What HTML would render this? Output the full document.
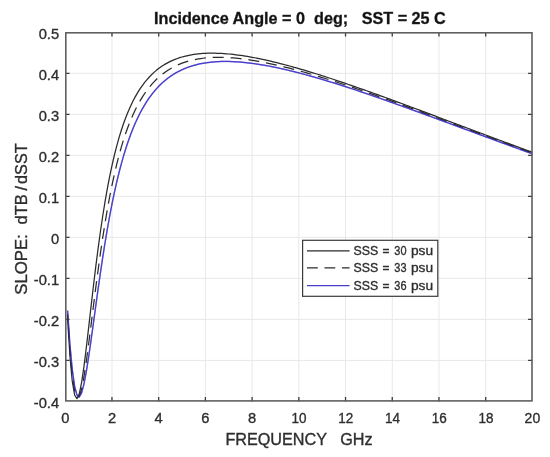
<!DOCTYPE html>
<html><head><meta charset="utf-8"><title>plot</title>
<style>html,body{margin:0;padding:0;background:#fff}svg{display:block;filter:blur(0.45px)}text{font-family:"Liberation Sans",Arial,sans-serif;white-space:pre;stroke:#2e2e2e;stroke-width:0.35px}</style></head>
<body>
<svg width="550" height="457" viewBox="0 0 550 457">
<rect width="550" height="457" fill="#fff"/>
<path d="M111.97 32.30 V401.40 M158.68 32.30 V401.40 M205.39 32.30 V401.40 M252.11 32.30 V401.40 M298.82 32.30 V401.40 M345.54 32.30 V401.40 M392.25 32.30 V401.40 M438.97 32.30 V401.40 M485.69 32.30 V401.40 M65.25 73.31 H532.40 M65.25 114.32 H532.40 M65.25 155.33 H532.40 M65.25 196.34 H532.40 M65.25 237.36 H532.40 M65.25 278.37 H532.40 M65.25 319.38 H532.40 M65.25 360.39 H532.40" stroke="#e8e8e8" stroke-width="1" fill="none"/>
<g fill="none" stroke-width="1.25" stroke-linejoin="round">
<path d="M67.59 318.41 L69.92 356.02 L72.26 381.16 L74.59 395.02 L76.93 398.69 L79.26 393.86 L81.60 382.53 L83.94 366.67 L86.27 348.01 L88.61 327.92 L90.94 307.44 L93.28 287.28 L95.61 267.91 L97.95 249.61 L100.29 232.54 L102.62 216.73 L104.96 202.20 L107.29 188.88 L109.63 176.71 L111.97 165.62 L114.30 155.51 L116.64 146.30 L118.97 137.92 L121.31 130.28 L123.64 123.32 L125.98 116.98 L128.32 111.19 L130.65 105.90 L132.99 101.07 L135.32 96.65 L137.66 92.61 L139.99 88.91 L142.33 85.52 L144.67 82.42 L147.00 79.57 L149.34 76.96 L151.67 74.57 L154.01 72.37 L156.34 70.36 L158.68 68.52 L161.02 66.83 L163.35 65.28 L165.69 63.87 L168.02 62.58 L170.36 61.41 L172.69 60.34 L175.03 59.37 L177.37 58.49 L179.70 57.70 L182.04 56.98 L184.37 56.35 L186.71 55.78 L189.04 55.28 L191.38 54.84 L193.72 54.46 L196.05 54.14 L198.39 53.87 L200.72 53.64 L203.06 53.47 L205.39 53.33 L207.73 53.24 L210.07 53.19 L212.40 53.18 L214.74 53.20 L217.07 53.26 L219.41 53.35 L221.75 53.47 L224.08 53.62 L226.42 53.80 L228.75 54.00 L231.09 54.23 L233.42 54.49 L235.76 54.77 L238.10 55.07 L240.43 55.39 L242.77 55.74 L245.10 56.10 L247.44 56.48 L249.77 56.89 L252.11 57.31 L254.45 57.74 L256.78 58.20 L259.12 58.67 L261.45 59.15 L263.79 59.65 L266.12 60.16 L268.46 60.69 L270.80 61.23 L273.13 61.79 L275.47 62.35 L277.80 62.93 L280.14 63.52 L282.47 64.12 L284.81 64.73 L287.15 65.35 L289.48 65.98 L291.82 66.62 L294.15 67.28 L296.49 67.94 L298.82 68.60 L301.16 69.28 L303.50 69.97 L305.83 70.66 L308.17 71.36 L310.50 72.07 L312.84 72.79 L315.18 73.51 L317.51 74.24 L319.85 74.97 L322.18 75.72 L324.52 76.46 L326.85 77.22 L329.19 77.98 L331.53 78.74 L333.86 79.52 L336.20 80.29 L338.53 81.07 L340.87 81.86 L343.20 82.65 L345.54 83.44 L347.88 84.24 L350.21 85.05 L352.55 85.85 L354.88 86.67 L357.22 87.48 L359.55 88.30 L361.89 89.12 L364.23 89.95 L366.56 90.78 L368.90 91.61 L371.23 92.44 L373.57 93.28 L375.90 94.12 L378.24 94.96 L380.58 95.81 L382.91 96.66 L385.25 97.51 L387.58 98.36 L389.92 99.21 L392.25 100.07 L394.59 100.93 L396.93 101.79 L399.26 102.65 L401.60 103.51 L403.93 104.37 L406.27 105.24 L408.61 106.11 L410.94 106.98 L413.28 107.85 L415.61 108.72 L417.95 109.59 L420.28 110.46 L422.62 111.34 L424.96 112.21 L427.29 113.09 L429.63 113.96 L431.96 114.84 L434.30 115.71 L436.63 116.59 L438.97 117.47 L441.31 118.35 L443.64 119.23 L445.98 120.10 L448.31 120.98 L450.65 121.86 L452.98 122.74 L455.32 123.62 L457.66 124.50 L459.99 125.38 L462.33 126.25 L464.66 127.13 L467.00 128.01 L469.33 128.89 L471.67 129.76 L474.01 130.64 L476.34 131.52 L478.68 132.39 L481.01 133.27 L483.35 134.14 L485.69 135.02 L488.02 135.89 L490.36 136.76 L492.69 137.63 L495.03 138.50 L497.36 139.37 L499.70 140.24 L502.04 141.11 L504.37 141.98 L506.71 142.85 L509.04 143.71 L511.38 144.58 L513.71 145.44 L516.05 146.30 L518.39 147.16 L520.72 148.02 L523.06 148.88 L525.39 149.74 L527.73 150.59 L530.06 151.45 L532.40 152.30" stroke="#2b2b2b"/>
<path d="M67.59 314.24 L69.92 350.11 L72.26 375.24 L74.59 390.77 L76.93 397.43 L79.26 396.37 L81.60 389.03 L83.94 376.97 L86.27 361.63 L88.61 344.27 L90.94 325.88 L93.28 307.22 L95.61 288.83 L97.95 271.08 L100.29 254.19 L102.62 238.30 L104.96 223.47 L107.29 209.71 L109.63 196.99 L111.97 185.26 L114.30 174.48 L116.64 164.58 L118.97 155.49 L121.31 147.16 L123.64 139.51 L125.98 132.50 L128.32 126.06 L130.65 120.15 L132.99 114.73 L135.32 109.74 L137.66 105.16 L139.99 100.94 L142.33 97.07 L144.67 93.50 L147.00 90.21 L149.34 87.18 L151.67 84.40 L154.01 81.83 L156.34 79.46 L158.68 77.28 L161.02 75.28 L163.35 73.43 L165.69 71.73 L168.02 70.17 L170.36 68.74 L172.69 67.42 L175.03 66.22 L177.37 65.12 L179.70 64.12 L182.04 63.20 L184.37 62.38 L186.71 61.63 L189.04 60.95 L191.38 60.35 L193.72 59.81 L196.05 59.34 L198.39 58.92 L200.72 58.56 L203.06 58.25 L205.39 57.99 L207.73 57.78 L210.07 57.62 L212.40 57.49 L214.74 57.41 L217.07 57.36 L219.41 57.35 L221.75 57.38 L224.08 57.44 L226.42 57.53 L228.75 57.65 L231.09 57.80 L233.42 57.98 L235.76 58.18 L238.10 58.41 L240.43 58.66 L242.77 58.94 L245.10 59.24 L247.44 59.56 L249.77 59.90 L252.11 60.26 L254.45 60.64 L256.78 61.04 L259.12 61.46 L261.45 61.89 L263.79 62.34 L266.12 62.80 L268.46 63.28 L270.80 63.78 L273.13 64.29 L275.47 64.81 L277.80 65.35 L280.14 65.90 L282.47 66.46 L284.81 67.03 L287.15 67.62 L289.48 68.21 L291.82 68.82 L294.15 69.43 L296.49 70.06 L298.82 70.70 L301.16 71.34 L303.50 72.00 L305.83 72.66 L308.17 73.33 L310.50 74.01 L312.84 74.70 L315.18 75.40 L317.51 76.10 L319.85 76.81 L322.18 77.53 L324.52 78.25 L326.85 78.98 L329.19 79.72 L331.53 80.46 L333.86 81.21 L336.20 81.96 L338.53 82.72 L340.87 83.49 L343.20 84.26 L345.54 85.03 L347.88 85.81 L350.21 86.60 L352.55 87.39 L354.88 88.18 L357.22 88.98 L359.55 89.78 L361.89 90.58 L364.23 91.39 L366.56 92.20 L368.90 93.02 L371.23 93.84 L373.57 94.66 L375.90 95.49 L378.24 96.31 L380.58 97.14 L382.91 97.98 L385.25 98.81 L387.58 99.65 L389.92 100.49 L392.25 101.33 L394.59 102.18 L396.93 103.03 L399.26 103.88 L401.60 104.73 L403.93 105.58 L406.27 106.43 L408.61 107.29 L410.94 108.15 L413.28 109.00 L415.61 109.86 L417.95 110.72 L420.28 111.59 L422.62 112.45 L424.96 113.31 L427.29 114.18 L429.63 115.04 L431.96 115.91 L434.30 116.78 L436.63 117.64 L438.97 118.51 L441.31 119.38 L443.64 120.25 L445.98 121.12 L448.31 121.99 L450.65 122.86 L452.98 123.73 L455.32 124.60 L457.66 125.47 L459.99 126.34 L462.33 127.21 L464.66 128.08 L467.00 128.95 L469.33 129.82 L471.67 130.69 L474.01 131.56 L476.34 132.43 L478.68 133.30 L481.01 134.16 L483.35 135.03 L485.69 135.90 L488.02 136.76 L490.36 137.63 L492.69 138.49 L495.03 139.36 L497.36 140.22 L499.70 141.08 L502.04 141.95 L504.37 142.81 L506.71 143.67 L509.04 144.53 L511.38 145.39 L513.71 146.24 L516.05 147.10 L518.39 147.95 L520.72 148.81 L523.06 149.66 L525.39 150.51 L527.73 151.36 L530.06 152.21 L532.40 153.06" stroke="#2b2b2b" stroke-dasharray="11 6.9" stroke-dashoffset="4.8"/>
<path d="M67.59 310.61 L69.92 344.84 L72.26 369.64 L74.59 386.20 L76.93 395.02 L79.26 396.89 L81.60 392.85 L83.94 384.12 L86.27 371.87 L88.61 357.20 L90.94 341.03 L93.28 324.10 L95.61 306.98 L97.95 290.09 L100.29 273.72 L102.62 258.07 L104.96 243.24 L107.29 229.30 L109.63 216.26 L111.97 204.12 L114.30 192.85 L116.64 182.41 L118.97 172.76 L121.31 163.84 L123.64 155.61 L125.98 148.01 L128.32 140.99 L130.65 134.52 L132.99 128.55 L135.32 123.03 L137.66 117.94 L139.99 113.24 L142.33 108.89 L144.67 104.87 L147.00 101.16 L149.34 97.72 L151.67 94.55 L154.01 91.61 L156.34 88.89 L158.68 86.38 L161.02 84.05 L163.35 81.90 L165.69 79.92 L168.02 78.08 L170.36 76.39 L172.69 74.82 L175.03 73.38 L177.37 72.06 L179.70 70.84 L182.04 69.72 L184.37 68.69 L186.71 67.76 L189.04 66.91 L191.38 66.13 L193.72 65.43 L196.05 64.80 L198.39 64.23 L200.72 63.73 L203.06 63.28 L205.39 62.89 L207.73 62.55 L210.07 62.27 L212.40 62.03 L214.74 61.83 L217.07 61.68 L219.41 61.56 L221.75 61.49 L224.08 61.45 L226.42 61.45 L228.75 61.48 L231.09 61.55 L233.42 61.64 L235.76 61.77 L238.10 61.92 L240.43 62.10 L242.77 62.31 L245.10 62.54 L247.44 62.79 L249.77 63.07 L252.11 63.37 L254.45 63.69 L256.78 64.03 L259.12 64.39 L261.45 64.76 L263.79 65.16 L266.12 65.57 L268.46 66.00 L270.80 66.45 L273.13 66.91 L275.47 67.39 L277.80 67.88 L280.14 68.39 L282.47 68.91 L284.81 69.44 L287.15 69.99 L289.48 70.54 L291.82 71.11 L294.15 71.69 L296.49 72.28 L298.82 72.88 L301.16 73.50 L303.50 74.12 L305.83 74.75 L308.17 75.39 L310.50 76.04 L312.84 76.70 L315.18 77.37 L317.51 78.04 L319.85 78.73 L322.18 79.42 L324.52 80.11 L326.85 80.82 L329.19 81.53 L331.53 82.25 L333.86 82.97 L336.20 83.70 L338.53 84.44 L340.87 85.18 L343.20 85.93 L345.54 86.69 L347.88 87.45 L350.21 88.21 L352.55 88.98 L354.88 89.75 L357.22 90.53 L359.55 91.31 L361.89 92.10 L364.23 92.89 L366.56 93.68 L368.90 94.48 L371.23 95.28 L373.57 96.09 L375.90 96.90 L378.24 97.71 L380.58 98.52 L382.91 99.34 L385.25 100.16 L387.58 100.99 L389.92 101.81 L392.25 102.64 L394.59 103.47 L396.93 104.31 L399.26 105.14 L401.60 105.98 L403.93 106.82 L406.27 107.66 L408.61 108.50 L410.94 109.35 L413.28 110.19 L415.61 111.04 L417.95 111.89 L420.28 112.74 L422.62 113.59 L424.96 114.45 L427.29 115.30 L429.63 116.15 L431.96 117.01 L434.30 117.87 L436.63 118.72 L438.97 119.58 L441.31 120.44 L443.64 121.30 L445.98 122.16 L448.31 123.02 L450.65 123.88 L452.98 124.74 L455.32 125.60 L457.66 126.46 L459.99 127.33 L462.33 128.19 L464.66 129.05 L467.00 129.91 L469.33 130.77 L471.67 131.63 L474.01 132.49 L476.34 133.35 L478.68 134.21 L481.01 135.07 L483.35 135.93 L485.69 136.79 L488.02 137.65 L490.36 138.51 L492.69 139.37 L495.03 140.23 L497.36 141.08 L499.70 141.94 L502.04 142.79 L504.37 143.65 L506.71 144.50 L509.04 145.35 L511.38 146.21 L513.71 147.06 L516.05 147.91 L518.39 148.76 L520.72 149.60 L523.06 150.45 L525.39 151.30 L527.73 152.14 L530.06 152.99 L532.40 153.83" stroke="#4a3fcc" style="mix-blend-mode:multiply"/>
<path d="M67.59 310.61 L69.92 344.84 L72.26 369.64 L74.59 386.20 L76.93 395.02 L79.26 396.89 L81.60 392.85 L83.94 384.12 L86.27 371.87 L88.61 357.20 L90.94 341.03 L93.28 324.10 L95.61 306.98 L97.95 290.09 L100.29 273.72 L102.62 258.07 L104.96 243.24 L107.29 229.30 L109.63 216.26 L111.97 204.12 L114.30 192.85 L116.64 182.41 L118.97 172.76 L121.31 163.84 L123.64 155.61 L125.98 148.01 L128.32 140.99 L130.65 134.52 L132.99 128.55 L135.32 123.03 L137.66 117.94 L139.99 113.24 L142.33 108.89 L144.67 104.87 L147.00 101.16 L149.34 97.72 L151.67 94.55 L154.01 91.61 L156.34 88.89 L158.68 86.38 L161.02 84.05 L163.35 81.90 L165.69 79.92 L168.02 78.08 L170.36 76.39 L172.69 74.82 L175.03 73.38 L177.37 72.06 L179.70 70.84 L182.04 69.72 L184.37 68.69 L186.71 67.76 L189.04 66.91 L191.38 66.13 L193.72 65.43 L196.05 64.80 L198.39 64.23 L200.72 63.73 L203.06 63.28 L205.39 62.89 L207.73 62.55 L210.07 62.27 L212.40 62.03 L214.74 61.83 L217.07 61.68 L219.41 61.56 L221.75 61.49 L224.08 61.45 L226.42 61.45 L228.75 61.48 L231.09 61.55 L233.42 61.64 L235.76 61.77 L238.10 61.92 L240.43 62.10 L242.77 62.31 L245.10 62.54 L247.44 62.79 L249.77 63.07 L252.11 63.37 L254.45 63.69 L256.78 64.03 L259.12 64.39 L261.45 64.76 L263.79 65.16 L266.12 65.57 L268.46 66.00 L270.80 66.45 L273.13 66.91 L275.47 67.39 L277.80 67.88 L280.14 68.39 L282.47 68.91 L284.81 69.44 L287.15 69.99 L289.48 70.54 L291.82 71.11 L294.15 71.69 L296.49 72.28 L298.82 72.88 L301.16 73.50 L303.50 74.12 L305.83 74.75 L308.17 75.39 L310.50 76.04 L312.84 76.70 L315.18 77.37 L317.51 78.04 L319.85 78.73 L322.18 79.42 L324.52 80.11 L326.85 80.82 L329.19 81.53 L331.53 82.25 L333.86 82.97 L336.20 83.70 L338.53 84.44 L340.87 85.18 L343.20 85.93 L345.54 86.69 L347.88 87.45 L350.21 88.21 L352.55 88.98 L354.88 89.75 L357.22 90.53 L359.55 91.31 L361.89 92.10 L364.23 92.89 L366.56 93.68 L368.90 94.48 L371.23 95.28 L373.57 96.09 L375.90 96.90 L378.24 97.71 L380.58 98.52 L382.91 99.34 L385.25 100.16 L387.58 100.99 L389.92 101.81 L392.25 102.64 L394.59 103.47 L396.93 104.31 L399.26 105.14 L401.60 105.98 L403.93 106.82 L406.27 107.66 L408.61 108.50 L410.94 109.35 L413.28 110.19 L415.61 111.04 L417.95 111.89 L420.28 112.74 L422.62 113.59 L424.96 114.45 L427.29 115.30 L429.63 116.15 L431.96 117.01 L434.30 117.87 L436.63 118.72 L438.97 119.58 L441.31 120.44 L443.64 121.30 L445.98 122.16 L448.31 123.02 L450.65 123.88 L452.98 124.74 L455.32 125.60 L457.66 126.46 L459.99 127.33 L462.33 128.19 L464.66 129.05 L467.00 129.91 L469.33 130.77 L471.67 131.63 L474.01 132.49 L476.34 133.35 L478.68 134.21 L481.01 135.07 L483.35 135.93 L485.69 136.79 L488.02 137.65 L490.36 138.51 L492.69 139.37 L495.03 140.23 L497.36 141.08 L499.70 141.94 L502.04 142.79 L504.37 143.65 L506.71 144.50 L509.04 145.35 L511.38 146.21 L513.71 147.06 L516.05 147.91 L518.39 148.76 L520.72 149.60 L523.06 150.45 L525.39 151.30 L527.73 152.14 L530.06 152.99 L532.40 153.83" stroke="#4a3fcc" stroke-opacity="0.5" stroke-width="1.5"/>
</g>
<path d="M111.97 401.40 v-4.30 M111.97 32.30 v4.30 M158.68 401.40 v-4.30 M158.68 32.30 v4.30 M205.39 401.40 v-4.30 M205.39 32.30 v4.30 M252.11 401.40 v-4.30 M252.11 32.30 v4.30 M298.82 401.40 v-4.30 M298.82 32.30 v4.30 M345.54 401.40 v-4.30 M345.54 32.30 v4.30 M392.25 401.40 v-4.30 M392.25 32.30 v4.30 M438.97 401.40 v-4.30 M438.97 32.30 v4.30 M485.69 401.40 v-4.30 M485.69 32.30 v4.30 M65.25 73.31 h4.30 M532.40 73.31 h-4.30 M65.25 114.32 h4.30 M532.40 114.32 h-4.30 M65.25 155.33 h4.30 M532.40 155.33 h-4.30 M65.25 196.34 h4.30 M532.40 196.34 h-4.30 M65.25 237.36 h4.30 M532.40 237.36 h-4.30 M65.25 278.37 h4.30 M532.40 278.37 h-4.30 M65.25 319.38 h4.30 M532.40 319.38 h-4.30 M65.25 360.39 h4.30 M532.40 360.39 h-4.30" stroke="#3a3a3a" stroke-width="1.3" fill="none"/>
<rect x="65.80" y="32.80" width="466.20" height="368.10" fill="none" stroke="#606060" stroke-width="1.60"/>
<g font-size="14.70" fill="#2e2e2e">
<text x="65.25" y="422.70" text-anchor="middle">0</text>
<text x="111.97" y="422.70" text-anchor="middle">2</text>
<text x="158.68" y="422.70" text-anchor="middle">4</text>
<text x="205.39" y="422.70" text-anchor="middle">6</text>
<text x="252.11" y="422.70" text-anchor="middle">8</text>
<text x="291.62" y="422.70" textLength="15.0" lengthAdjust="spacingAndGlyphs">10</text>
<text x="338.34" y="422.70" textLength="15.0" lengthAdjust="spacingAndGlyphs">12</text>
<text x="385.05" y="422.70" textLength="15.0" lengthAdjust="spacingAndGlyphs">14</text>
<text x="431.77" y="422.70" textLength="15.0" lengthAdjust="spacingAndGlyphs">16</text>
<text x="478.49" y="422.70" textLength="15.0" lengthAdjust="spacingAndGlyphs">18</text>
<text x="524.60" y="422.70" textLength="15.6" lengthAdjust="spacingAndGlyphs">20</text>
<text x="59.10" y="39.20" text-anchor="end">0.5</text>
<text x="59.10" y="80.21" text-anchor="end">0.4</text>
<text x="59.10" y="121.22" text-anchor="end">0.3</text>
<text x="59.10" y="162.23" text-anchor="end">0.2</text>
<text x="59.10" y="203.24" text-anchor="end">0.1</text>
<text x="59.10" y="244.26" text-anchor="end">0</text>
<text x="59.10" y="285.27" text-anchor="end">-0.1</text>
<text x="59.10" y="326.28" text-anchor="end">-0.2</text>
<text x="59.10" y="367.29" text-anchor="end">-0.3</text>
<text x="59.10" y="408.30" text-anchor="end">-0.4</text>
</g>
<text x="299.00" y="444.80" font-size="16.20" fill="#2e2e2e" text-anchor="middle" xml:space="preserve">FREQUENCY   GHz</text>
<text transform="translate(26.80 0) rotate(-90)" font-size="16.20" fill="#2e2e2e"><tspan x="-294.7" textLength="60.5" lengthAdjust="spacingAndGlyphs">SLOPE:</tspan>  <tspan x="-224.5" textLength="30.2" lengthAdjust="spacingAndGlyphs">dTB</tspan> <tspan x="-190.5">/</tspan> <tspan x="-183.9">dSST</tspan></text>
<text x="299.90" y="24.40" font-size="16.20" font-weight="bold" fill="#111" text-anchor="middle" xml:space="preserve">Incidence Angle = 0  deg;   SST = 25 C</text>
<rect x="302.60" y="240.30" width="135.20" height="56.00" fill="#fff" stroke="#3a3a3a" stroke-width="1.2"/>
<g fill="none" stroke-width="1.25">
<path d="M307 250.90 H349.6" stroke="#2b2b2b"/>
<path d="M307 267.80 H349.6" stroke="#2b2b2b" stroke-dasharray="10.8 6.7"/>
<path d="M307 285.50 H349.6" stroke="#4a3fcc"/>
</g>
<g font-size="13.25" fill="#2e2e2e">
<text y="255.20"><tspan x="353.6" textLength="24.7" lengthAdjust="spacingAndGlyphs">SSS</tspan> <tspan x="382.5" textLength="7.0" lengthAdjust="spacingAndGlyphs">=</tspan> <tspan x="394.3" textLength="12.2" lengthAdjust="spacingAndGlyphs">30</tspan> <tspan x="411.0" textLength="22.1" lengthAdjust="spacingAndGlyphs">psu</tspan></text>
<text y="272.10"><tspan x="353.6" textLength="24.7" lengthAdjust="spacingAndGlyphs">SSS</tspan> <tspan x="382.5" textLength="7.0" lengthAdjust="spacingAndGlyphs">=</tspan> <tspan x="394.3" textLength="12.2" lengthAdjust="spacingAndGlyphs">33</tspan> <tspan x="411.0" textLength="22.1" lengthAdjust="spacingAndGlyphs">psu</tspan></text>
<text y="289.80"><tspan x="353.6" textLength="24.7" lengthAdjust="spacingAndGlyphs">SSS</tspan> <tspan x="382.5" textLength="7.0" lengthAdjust="spacingAndGlyphs">=</tspan> <tspan x="394.3" textLength="12.2" lengthAdjust="spacingAndGlyphs">36</tspan> <tspan x="411.0" textLength="22.1" lengthAdjust="spacingAndGlyphs">psu</tspan></text>
</g>
</svg>
</body></html>
